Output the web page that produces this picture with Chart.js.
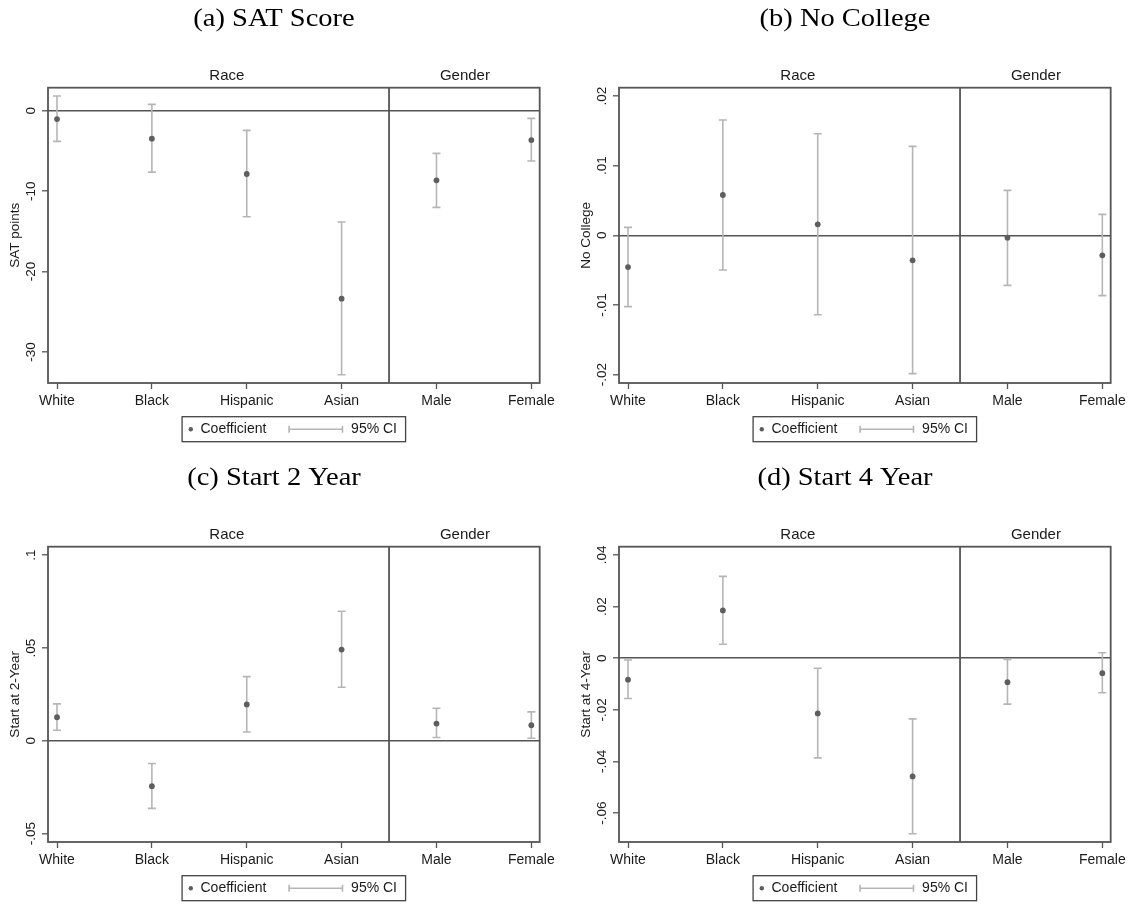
<!DOCTYPE html>
<html>
<head>
<meta charset="utf-8">
<script src="https://cdn.jsdelivr.net/npm/chart.js@4"></script>
<style>
  html, body { margin: 0; padding: 0; background: #fff; overflow: hidden; }
  canvas { position: absolute; }
</style>
</head>
<body>
<canvas id="panel-a" width="559" height="459" style="left:0;top:0"></canvas>
<canvas id="panel-b" width="559" height="459" style="left:571px;top:0"></canvas>
<canvas id="panel-c" width="559" height="459" style="left:0;top:459px"></canvas>
<canvas id="panel-d" width="559" height="459" style="left:571px;top:459px"></canvas>
<script>
const categories = ["White", "Black", "Hispanic", "Asian", "Male", "Female"];
const groups = ["Race", "Gender"];

// (a) SAT score
const satCoef = [-1.04, -3.48, -7.87, -23.37, -8.66, -3.65];
const satLow  = [-3.81, -7.63, -13.18, -32.82, -12.02, -6.26];
const satHigh = [1.82, 0.79, -2.45, -13.84, -5.30, -0.95];
const satTicks = [-30, -20, -10, 0];
const satTickLabels = ["-30", "-20", "-10", "0"];

// (b) no college
const noCollCoef = [-0.00455, 0.00579, 0.00158, -0.00359, -0.00033, -0.00287];
const noCollLow  = [-0.01024, -0.00498, -0.01139, -0.01986, -0.00718, -0.00866];
const noCollHigh = [0.00115, 0.01656, 0.01459, 0.01278, 0.00646, 0.00301];
const noCollTicks = [-0.02, -0.01, 0, 0.01, 0.02];
const noCollTickLabels = ["-.02", "-.01", "0", ".01", ".02"];

// (c) start at 2-year
const start2Coef = [0.0127, -0.0244, 0.0196, 0.0492, 0.0093, 0.0084];
const start2Low  = [0.0057, -0.0364, 0.0048, 0.0289, 0.0018, 0.0014];
const start2High = [0.0199, -0.0122, 0.0346, 0.0698, 0.0176, 0.0156];
const start2Ticks = [-0.05, 0, 0.05, 0.1];
const start2TickLabels = ["-.05", "0", ".05", ".1"];

// (d) start at 4-year
const start4Coef = [-0.0083, 0.0185, -0.0214, -0.0458, -0.0093, -0.0058];
const start4Low  = [-0.0156, 0.0054, -0.0386, -0.0680, -0.0178, -0.0134];
const start4High = [-0.0007, 0.0317, -0.0039, -0.0235, -0.0005, 0.0021];
const start4Ticks = [-0.06, -0.04, -0.02, 0, 0.02, 0.04];
const start4TickLabels = ["-.06", "-.04", "-.02", "0", ".02", ".04"];

const DARK = "#555555";
const POINT = "#5e5e5e";
const CI = "#b5b5b5";

// draws the frame, divider, titles, rotated y labels and the boxed legend
const panelDecor = {
  id: "panelDecor",
  afterDraw(chart, args, opts) {
    const ctx = chart.ctx;
    const a = chart.chartArea;
    const xs = chart.scales.x, ys = chart.scales.y;
    ctx.save();

    ctx.strokeStyle = DARK;
    ctx.lineWidth = 1.8;
    ctx.strokeRect(a.left, a.top, a.right - a.left, a.bottom - a.top);
    const xd = xs.getPixelForValue(3.5);
    ctx.beginPath();
    ctx.moveTo(xd, a.top);
    ctx.lineTo(xd, a.bottom);
    ctx.stroke();

    // serif caption, stretched a bit to get the wide LaTeX look
    ctx.fillStyle = "#000";
    ctx.textAlign = "center";
    ctx.textBaseline = "middle";
    ctx.font = "25px 'Liberation Serif'";
    ctx.save();
    ctx.translate(274, 19.5);
    ctx.scale(1.14, 1);
    ctx.fillText(opts.title, 0, 0);
    ctx.restore();

    ctx.fillStyle = "#1a1a1a";
    ctx.font = "15px 'Liberation Sans'";
    ctx.fillText(groups[0], xs.getPixelForValue(1.79), a.top - 11.5);
    ctx.fillText(groups[1], xs.getPixelForValue(4.3), a.top - 11.5);

    ctx.font = "13.5px 'Liberation Sans'";
    opts.ticks.forEach((v, i) => {
      ctx.save();
      ctx.translate(a.left - 16.5, ys.getPixelForValue(v));
      ctx.rotate(-Math.PI / 2);
      ctx.fillText(opts.tickLabels[i], 0, 0);
      ctx.restore();
    });
    ctx.save();
    ctx.translate(a.left - 32.5, (a.top + a.bottom) / 2);
    ctx.rotate(-Math.PI / 2);
    ctx.fillText(opts.yTitle, 0, 0);
    ctx.restore();

    // legend
    const w = 223.5, h = 25;
    const lx = (a.left + a.right) / 2 - w / 2;
    const ly = 416.7;
    const my = ly + h / 2;
    ctx.strokeStyle = "#444";
    ctx.lineWidth = 1.3;
    ctx.strokeRect(lx, ly, w, h);
    ctx.fillStyle = POINT;
    ctx.beginPath();
    ctx.arc(lx + 8.7, my, 2.2, 0, Math.PI * 2);
    ctx.fill();
    ctx.strokeStyle = CI;
    ctx.lineWidth = 1.6;
    ctx.beginPath();
    ctx.moveTo(lx + 107, my); ctx.lineTo(lx + 160.4, my);
    ctx.moveTo(lx + 107, my - 3.5); ctx.lineTo(lx + 107, my + 3.5);
    ctx.moveTo(lx + 160.4, my - 3.5); ctx.lineTo(lx + 160.4, my + 3.5);
    ctx.stroke();
    ctx.fillStyle = "#1a1a1a";
    ctx.textAlign = "left";
    ctx.font = "14px 'Liberation Sans'";
    ctx.fillText(chart.data.datasets[0].label, lx + 18.4, my);
    ctx.fillText(chart.data.datasets[1].label, lx + 169, my);

    ctx.restore();
  }
};

function makePanel(id, title, yTitle, coef, low, high, ticks, tickLabels, yMin, yMax) {
  const coefPts = categories.map((c, i) => ({ x: i, y: coef[i] }));
  const ciPts = [];
  categories.forEach((c, i) => {
    ciPts.push({ x: i, y: low[i] }, { x: i, y: high[i] }, { x: i, y: null });
  });

  return new Chart(document.getElementById(id).getContext("2d"), {
    type: "scatter",
    data: {
      datasets: [
        {
          label: "Coefficient",
          data: coefPts,
          pointRadius: 2.9,
          pointBackgroundColor: POINT,
          pointBorderWidth: 0,
          showLine: false
        },
        {
          label: "95% CI",
          type: "line",
          data: ciPts,
          borderColor: CI,
          borderWidth: 1.6,
          pointStyle: "line",
          pointRadius: 4,
          pointBorderColor: CI,
          pointBorderWidth: 1.6,
          spanGaps: false,
          fill: false,
          tension: 0
        }
      ]
    },
    plugins: [panelDecor],
    options: {
      responsive: false,
      animation: false,
      devicePixelRatio: 1,
      events: [],
      layout: { padding: { top: 87.7, left: 0, right: 19, bottom: 46 } },
      plugins: {
        legend: { display: false },
        tooltip: { enabled: false },
        panelDecor: { title: title, yTitle: yTitle, ticks: ticks, tickLabels: tickLabels }
      },
      scales: {
        x: {
          type: "linear",
          min: -0.095,
          max: 5.088,
          afterBuildTicks: (s) => { s.ticks = categories.map((c, i) => ({ value: i })); },
          afterFit: (s) => { s.height = 30; },
          border: { display: false },
          grid: { drawOnChartArea: false, drawTicks: true, tickLength: 6, tickColor: DARK, tickWidth: 1.3 },
          ticks: {
            padding: 4,
            color: "#1a1a1a",
            font: { family: "'Liberation Sans'", size: 14 },
            maxRotation: 0,
            autoSkip: false,
            callback: (v) => categories[v]
          }
        },
        y: {
          type: "linear",
          min: yMin,
          max: yMax,
          afterBuildTicks: (s) => { s.ticks = ticks.map(v => ({ value: v })); },
          afterFit: (s) => { s.width = 48; },
          border: { display: false },
          grid: {
            drawTicks: true,
            tickLength: 6,
            tickColor: DARK,
            tickWidth: 1.3,
            lineWidth: 1.6,
            color: (c) => (c.tick && c.tick.value === 0 ? DARK : "rgba(0,0,0,0)")
          },
          ticks: { display: false }
        }
      }
    }
  });
}

makePanel("panel-a", "(a) SAT Score", "SAT points", satCoef, satLow, satHigh,
  satTicks, satTickLabels, -33.85, 2.86);
makePanel("panel-b", "(b) No College", "No College", noCollCoef, noCollLow, noCollHigh,
  noCollTicks, noCollTickLabels, -0.0212, 0.0212);
makePanel("panel-c", "(c) Start 2 Year", "Start at 2-Year", start2Coef, start2Low, start2High,
  start2Ticks, start2TickLabels, -0.0545, 0.1046);
makePanel("panel-d", "(d) Start 4 Year", "Start at 4-Year", start4Coef, start4Low, start4High,
  start4Ticks, start4TickLabels, -0.0712, 0.0432);
</script>
</body>
</html>
